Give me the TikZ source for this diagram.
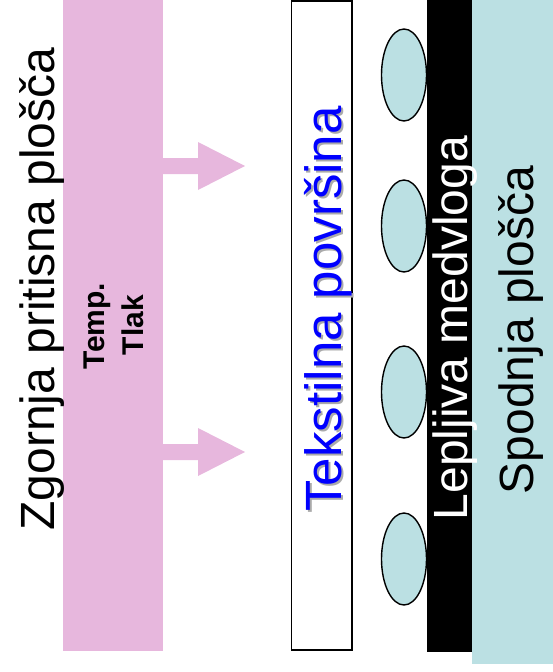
\documentclass[tikz,border=0pt]{standalone}
\usepackage{fontspec}
\setmainfont{Liberation Sans}
\usetikzlibrary{shapes.geometric}
\definecolor{platepink}{RGB}{231,183,221}
\definecolor{plateblue}{RGB}{187,224,227}
\definecolor{shadowgrey}{RGB}{170,170,170}
\begin{document}
\begin{tikzpicture}[x=1pt,y=-1pt,
  bigtext/.style={font=\fontsize{48}{58}\selectfont, rotate=90, inner sep=0pt, anchor=base},
  smalltext/.style={font=\fontsize{30}{36}\selectfont\bfseries, rotate=90, inner sep=0pt, anchor=base},
  bead/.style={draw=black, line width=1.4pt, fill=plateblue, ellipse, minimum width=45pt, minimum height=92pt, inner sep=0pt},
  blockarrow/.style={fill=platepink}]
\useasboundingbox (0,0) rectangle (553,672);
% upper press plate
\fill[platepink] (63,0) rectangle (163,651);
% arrows
\coordinate (a1) at (163,166);
\coordinate (a2) at (163,452);
\foreach \c in {a1,a2}{
  \fill[blockarrow] (\c) ++(0,-8) -- ++(35,0) -- ++(0,-16) -- ++(47,24) -- ++(-47,24) -- ++(0,-16) -- ++(-35,0) -- cycle;
}
% textile
\draw[line width=1.5pt, fill=white] (291.5,0.75) rectangle (352,650);
% adhesive interlayer
\fill[black] (427,0) rectangle (472,652);
% lower plate
\fill[plateblue] (472,0) rectangle (553,664);
% adhesive beads
\node[bead] (e1) at (404,75) {};
\node[bead] (e2) at (404,226) {};
\node[bead] (e3) at (404,392) {};
\node[bead] (e4) at (404,559) {};
% texts
\node[bigtext] (zg) at (54,289) {Zgornja pritisna plošča};
\node[smalltext] (tp) at (104.5,326) {Temp.};
\node[smalltext] (tl) at (143,325) {Tlak};
\node[bigtext, font=\fontsize{51}{60}\selectfont, text=shadowgrey] (tkshadow) at (343.5,311) {Tekstilna površina};
\node[bigtext, font=\fontsize{51}{60}\selectfont, text=blue] (tk) at (341,309) {Tekstilna površina};
\node[bigtext, text=white] (lm) at (467,328) {Lepljiva medvloga};
\node[bigtext] (sp) at (533,330) {Spodnja plošča};
\end{tikzpicture}
\end{document}
